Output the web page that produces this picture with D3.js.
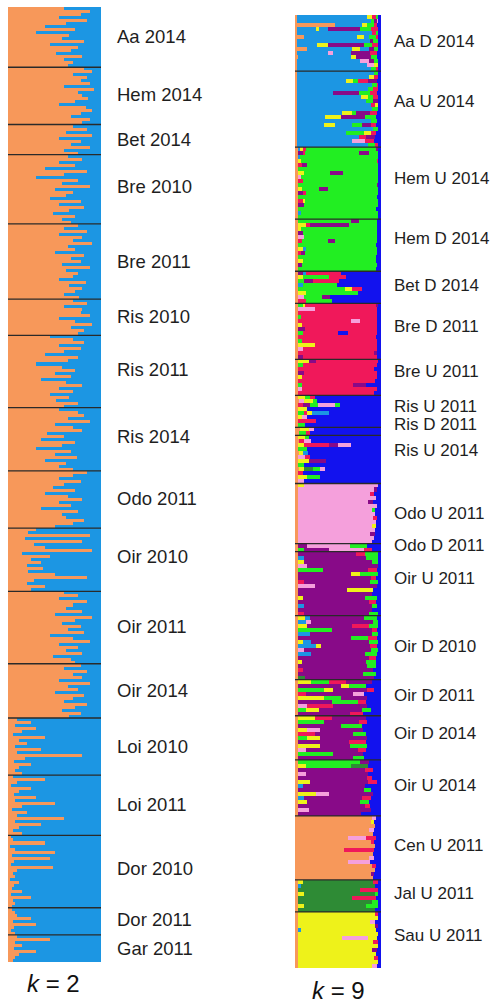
<!DOCTYPE html>
<html><head><meta charset="utf-8">
<script src="https://cdn.jsdelivr.net/npm/d3@7"></script>
<style>body{margin:0;background:#fff}svg{display:block}</style>
</head><body>
<svg id="c" width="495" height="1005"></svg>
<script>
// ---------- k = 2 : percent membership in the orange cluster per individual ----------
const popsK2 = ["Aa 2014","Hem 2014","Bet 2014","Bre 2010","Bre 2011","Ris 2010","Ris 2011","Ris 2014","Odo 2011","Oir 2010","Oir 2011","Oir 2014","Loi 2010","Loi 2011","Dor 2010","Dor 2011","Gar 2011"];
const aa2014  = [60,88,78,55,85,62,40,72,30,66,58,82,45,75,68,52,80,60,70,65];
const hem2014 = [82,90,70,85,78,88,60,92,75,80,86,72,55,84,90,78,68,88,80];
const bet2014 = [70,85,62,90,55,78,68,88,60,75];
const bre2010 = [65,80,55,72,40,85,60,30,75,58,88,50,70,62,45,78,55,82,66,48,72,58,68];
const bre2011 = [75,60,85,55,80,70,90,65,72,50,82,68,78,58,88,62,75,70,55,84,66,80,72,60,76];
const ris2010 = [70,85,60,80,78,88,55,72,90,68,82,75];
const ris2011 = [45,70,82,55,78,60,40,75,65,30,58,72,50,68,35,62,80,55,70,45,66,52,75,60];
const ris2014 = [55,75,82,65,88,50,70,80,42,60,35,72,58,30,68,50,74,40,62,55,70];
const odo2011 = [85,70,55,78,60,48,72,40,65,80,55,68,35,75,58,62,82,70,50];
const oir2010 = [30,22,88,18,80,28,40,90,15,45,25,35,20,38,22,50,85,28,20,40,25];
const oir2011 = [60,75,55,85,70,62,80,50,90,72,58,78,65,82,45,70,88,55,75,62,80,48,68,72];
const oir2014 = [78,60,85,70,80,55,88,65,75,50,82,70,60,85,72,58,78,66];
const loi2010 = [10,25,8,30,15,5,40,12,20,8,35,10,80,18,6,25,12,8,15];
const loi2011 = [5,40,10,3,25,12,6,30,8,50,15,4,20,10,60,8,35,12,5,15];
const dor2010 = [3,5,40,2,8,50,4,45,6,3,48,10,5,8,2,12,6,4,15,3,25,5,8,4];
const dor2011 = [4,8,10,25,5,30,6,3,8];
const gar2011 = [10,45,8,15,6,30,12,8,5];
const valuesK2 = [aa2014,hem2014,bet2014,bre2010,bre2011,ris2010,ris2011,ris2014,odo2011,oir2010,oir2011,oir2014,loi2010,loi2011,dor2010,dor2011,gar2011];

// ---------- k = 9 : per individual, cluster letter + percent, in drawing order ----------
const clusterKeys = ["o","s","g","r","b","k","p","d","y"];
const clusterColors = ["#F7985A","#1C96E3","#22EE22","#F0185A","#1212EE","#F5A0DC","#880A88","#2E8B35","#EEF21A"];
const popsK9 = ["Aa D 2014","Aa U 2014","Hem U 2014","Hem D 2014","Bet D 2014","Bre D 2011","Bre U 2011","Ris U 2011","Ris D 2011","Ris U 2014","Odo U 2011","Odo D 2011","Oir U 2011","Oir D 2010","Oir D 2011","Oir D 2014","Oir U 2014","Cen U 2011","Jal U 2011","Sau U 2011"];
const aaD14 = ["o2 s80 y6 r4 g3 b3","o2 s86 g4 p3 k2 b3","o46 s30 y6 g8 r4 b4","o2 s22 y4 s10 p38 g12 r8 b4","o2 s88 r4 g3 b3","o10 s62 y8 s6 g8 r3 b3","o2 s84 p4 g5 b4","o2 s24 y12 p42 g10 r6 b4","o14 s52 y10 s10 p6 g4 b4","o2 s36 k6 s20 p22 r8 b5","o3 s62 y5 p18 g6 b5","o2 s74 k10 p6 g4 b4","o2 s82 k8 y4 b4","o2 s86 g5 r3 b3"];
const aaU14 = ["o2 s90 g4 b4","o2 s84 y6 r4 b4","o2 s57 y8 g5 r12 p10 b5","o2 s88 g5 r2 b3","o2 s82 g6 r5 b4","o2 s42 p30 g12 r8 b5","o2 s74 y8 g6 r5 b4","o2 s80 g8 p5 b4","o2 s86 r4 y3 b4","o2 s87 g6 b4","o2 s52 y12 g4 p16 r8 b5","o2 s32 y18 p28 g12 b6","o2 s86 g6 b5","o2 s32 y12 s20 g12 p10 r6 b6","o2 s88 g5 b4","o2 s57 g20 y8 r6 b6","o2 s72 r8 p10 b7","o2 s64 k15 r10 b8","o2 s82 g8 r3 b4"];
const hemU14 = ["o3 s3 y3 r4 g82 p3 b3","o3 p6 r3 g62 p12 g10 b4","o4 s2 g90 b3","o3 y4 g88 r2 b3","o3 r5 p6 g82 b4","o3 g92 b4","o4 y6 g30 p15 g40 b4","o3 k4 g88 b4","o3 r6 g86 b4","o3 g91 p2 b3","o3 y5 g20 p10 g57 b4","o4 p5 r4 g82 b4","o3 g90 b5","o3 r6 y3 g83 b4","o3 p7 g85 b4","o3 g90 b6","o3 s4 g88 b4","o3 g92 b4"];
const hemD14 = ["o4 g60 p10 g20 b5","o3 y10 r4 p45 g32 b5","o3 y4 g87 b5","o3 p6 g85 b5","o4 k6 g84 b5","o3 r5 g30 p8 g48 b5","o3 g90 b6","o3 y6 s4 g81 b5","o3 r4 p4 g83 b5","o3 g90 b6","o3 y6 g84 b6","o3 p5 g86 b5","o3 g90 b6"];
const betD14 = ["o3 p6 s4 r40 b47","o3 y6 g30 r20 b41","o3 g8 p10 r30 b49","o3 s6 g40 b51","o3 g55 y8 r12 b22","o3 y10 g60 b27","o3 k8 g20 p10 b59","o3 r10 g30 b57"];
const breD11 = ["o4 g5 y3 r82 p2 b4","o3 k20 r72 b5","o4 r90 b5","o3 g4 r87 b5","o3 r62 k10 r20 b5","o4 y4 r86 b5","o3 p8 r83 b5","o3 g6 r40 b12 r33 b5","o3 r90 b6","o4 g4 r86 b5","o3 y20 r71 b5","o3 k6 r85 b5","o3 r89 p3 b5","o4 p5 r85 b5"];
const breU11 = ["o4 y12 p8 r72 b4","o3 g6 r85 b5","o3 r88 b8","o4 p6 r84 b5","o3 y5 r86 b5","o3 r89 b7","o3 g5 r60 p15 b17","o3 k5 r86 b5","o3 r88 b8"];
const risU11 = ["o4 y8 g5 r6 b77","o5 k6 y10 g4 b75","o3 r6 p8 g10 k20 g5 b48","o4 y10 b86","o4 g6 r4 y6 s20 b60","o3 y5 k6 b86","o4 r20 b76","o4 g8 b88"];
const risD11 = ["o6 y10 k6 b78","o5 g8 r4 b83"];
const risU14 = ["o4 y8 g4 b84","o5 r6 k8 b81","o4 y6 r30 p10 k15 b35","o4 g10 b86","o5 y4 s6 b85","o4 k8 r6 b82","o4 y12 p20 b64","o4 g6 b90","o5 y6 d10 g8 k6 b65","o4 r5 b91","o4 y10 g15 b71","o4 k6 b90"];
const odoU11 = ["o4 y6 k86 b4","o3 k89 p3 b5","o3 k84 r5 b8","o3 k91 b6","o3 k82 p6 b9","o3 k92 b5","o3 k86 g4 b7","o3 k90 b7","o3 k88 r4 b5","o3 k91 b6","o3 k87 y4 b6","o3 k90 b7","o3 k84 p6 b7","o3 k89 b8","o3 k86 b11"];
const odoD11 = ["o4 p10 k50 g20 b16","o4 g6 p30 k40 r10 b10"];
const oirU11 = ["o4 p67 r10 g15 b4","o4 s6 p72 g14 b4","o3 y8 p79 g6 b4","o4 k10 p82 b4","o3 g30 p52 r10 b5","o3 p62 y10 g22 b3","o4 p84 r6 b6","o3 r8 p76 g10 b3","o3 k20 p72 b5","o4 p57 y30 b9","o3 p86 b11","o3 y6 p72 g14 b5","o4 p82 r8 b6","o3 s8 p78 g6 b5","o3 p87 b10","o4 r6 p76 g10 b4"];
const oirD10 = ["o4 y8 s6 p62 g15 b5","o3 s10 k6 p72 g5 b4","o4 y10 p52 r20 g10 b4","o3 g40 p47 r5 b5","o4 s14 p72 g6 b4","o3 p62 g20 r10 b5","o3 y6 s10 p67 g10 b4","o4 s20 y6 p57 r8 b5","o3 k8 p77 g8 b4","o3 s16 p62 g14 b5","o4 p82 r8 b6","o3 y5 p74 g12 b6","o4 p80 g10 b6","o3 r6 p82 b9","o3 p76 g15 b6","o4 d8 p80 b8"];
const oirD11 = ["o4 y15 g20 r20 p30 b11","o3 p50 y10 g20 b17","o4 g30 y10 p40 r8 b8","o3 r10 p55 k12 b20","o4 y30 g20 p30 b16","o3 p40 g30 r10 b17","o4 k10 r30 p40 b16","o3 g10 y15 p50 g10 b12","o4 p60 r15 b21"];
const oirD14 = ["o3 y20 r20 p40 b17","o4 g30 p40 r10 b16","o3 p50 g25 b22","o4 y10 k15 p50 b21","o3 r20 p45 g15 b17","o4 g10 y15 p55 b16","o3 p60 r20 b17","o4 y25 p35 g20 b16","o3 k10 p60 r10 b17","o4 g40 p35 b21","o3 p65 g12 b20"];
const oirU14 = ["o4 g72 p10 b14","o3 y10 g52 d20 b15","o4 p77 r10 b9","o3 k10 p72 b15","o4 p80 r6 b10","o3 y15 p67 r10 b5","o4 s5 p72 b19","o3 p77 g8 b12","o4 y20 k15 p52 b9","o3 s8 p67 r10 b12","o4 y10 p62 g10 b14","o3 p78 r6 b13","o4 k12 p72 b12","o3 p74 b23"];
const cenU11 = ["o90 k4 b6","o88 y4 b8","o93 b7","o86 k6 b8","o91 b9","o62 k20 r12 b6","o88 r4 b8","o93 b7","o57 r35 b8","o91 b9","o86 k6 b8","o62 k25 b13","o90 r4 b6","o93 b7","o88 p4 b8","o91 b9"];
const jalU11 = ["o4 y5 d82 r6 b3","o3 s4 d86 b7","o4 d72 r20 b4","o3 y8 d82 g4 b3","o4 d62 r28 b6","o3 d87 g6 b4","o4 y6 d72 g15 b3","o3 d90 b7"];
const sauU11 = ["o3 y90 r4 b3","o3 y93 b4","o3 y84 k6 b7","o3 y90 p4 b3","o3 s4 y87 b6","o3 y93 b4","o3 y52 k30 y10 b5","o3 y88 r5 b4","o3 y93 b4","o3 y86 p6 b5","o3 y91 b6","o3 y89 r4 b4","o3 y93 b4","o3 y87 k5 b5"];
const valuesK9 = [aaD14,aaU14,hemU14,hemD14,betD14,breD11,breU11,risU11,risD11,risU14,odoU11,odoD11,oirU11,oirD10,oirD11,oirD14,oirU14,cenU11,jalU11,sauU11];

const k2Colors = ["#F7985A","#1C96E3"];

const svg = d3.select("#c");
const font = "'Liberation Sans', Arial, sans-serif";

function buildRows(pops, vals, toSegs){
  const rows = []; const groups = [];
  pops.forEach((name, pi) => {
    const start = rows.length;
    vals[pi].forEach(v => rows.push({pop: name, segs: toSegs(v)}));
    groups.push({name, start, end: rows.length});
  });
  return {rows, groups};
}

function drawPanel(cfg){
  const {rows, groups} = cfg.data;
  const y = d3.scaleBand().domain(d3.range(rows.length)).range([cfg.y0, cfg.y1]).paddingInner(0);
  const x = d3.scaleLinear().domain([0, 1]).range([cfg.x0, cfg.x1]);
  const g = svg.append("g");
  const rowG = g.selectAll("g.row").data(rows).join("g").attr("class","row");
  rowG.each(function(r, i){
    const tot = d3.sum(r.segs, s => s.v);
    let acc = 0;
    const segs = r.segs.map(s => { const o = {c: s.c, a: acc / tot, b: (acc + s.v) / tot}; acc += s.v; return o; });
    d3.select(this).selectAll("rect").data(segs).join("rect")
      .attr("x", s => x(s.a)).attr("width", s => Math.max(0, x(s.b) - x(s.a)))
      .attr("y", y(i)).attr("height", y.bandwidth() + 0.4)
      .attr("fill", s => s.c).attr("shape-rendering","crispEdges");
  });
  // population separators
  g.selectAll("line.sep").data(groups.slice(1)).join("line")
    .attr("x1", cfg.x0).attr("x2", cfg.x1)
    .attr("y1", d => y(d.start)).attr("y2", d => y(d.start))
    .attr("stroke", "#2a2a2a").attr("stroke-width", 1.3);
  // labels
  g.selectAll("text.lab").data(groups).join("text")
    .attr("x", cfg.labelX)
    .attr("y", (d, i) => cfg.labelY[i])
    .attr("dominant-baseline","middle")
    .attr("font-family", font).attr("font-size", cfg.fs).attr("fill", "#1e1e1e")
    .text(d => d.name);
  const t = svg.append("text").attr("x", cfg.kx).attr("y", cfg.ky)
    .attr("font-family", font).attr("font-size", 24).attr("fill", "#111");
  t.append("tspan").attr("font-style","italic").text("k");
  t.append("tspan").text(" = " + cfg.k);
}

const k2 = buildRows(popsK2, valuesK2, v => [{c: k2Colors[0], v: v}, {c: k2Colors[1], v: 100 - v}]);
const k9 = buildRows(popsK9, valuesK9, s => s.split(" ").map(t => ({c: clusterColors[clusterKeys.indexOf(t[0])], v: +t.slice(1)})));

// label vertical positions
const labelYK2 = [38,96,141,188,263,318,371,438,500,558,628,692,748,806,870,921,950];
const labelYK9 = [43,103,180,240,287,328,373,408,426,452,515,547,580,648,697,735,787,847,895,937];

drawPanel({data: k2, x0: 8, x1: 101, y0: 7, y1: 962, labelX: 117, labelY: labelYK2, fs: 18.5, kx: 27, ky: 992, k: 2});
drawPanel({data: k9, x0: 295, x1: 381, y0: 15, y1: 968, labelX: 394, labelY: labelYK9, fs: 17, kx: 312, ky: 999, k: 9});
</script>
</body></html>
